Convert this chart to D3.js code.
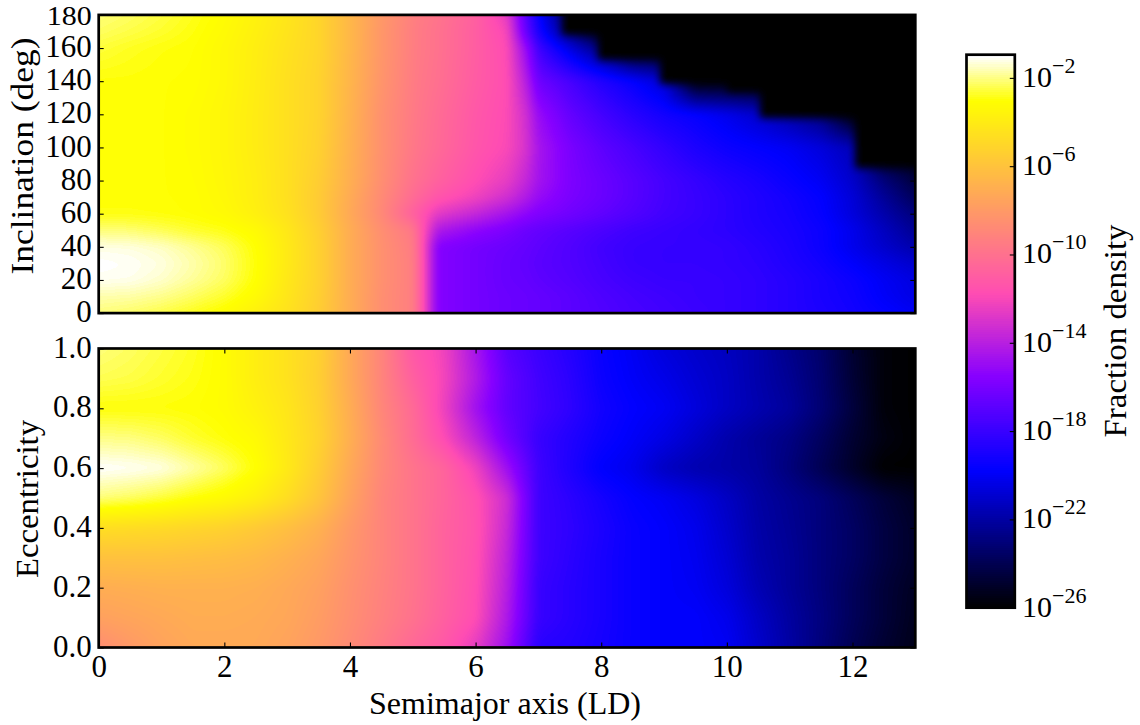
<!DOCTYPE html>
<html><head><meta charset="utf-8">
<style>html,body{margin:0;padding:0;background:#fff}svg{display:block}text{font-family:"Liberation Serif",serif;fill:#000}</style>
<script src="https://cdn.jsdelivr.net/npm/d3@7"></script></head><body>
<script>
// log10(fraction density)
const topA=[0,.5,1,1.5,2,2.5,3,3.5,4,4.5,5,5.1,5.4,6,6.5,6.8,7,7.5,8,8.5,9,9.5,10,10.5,11,11.5,12,12.5,13];
const topInc=[0,10,20,30,40,50,60,70,80,100,120,140,160,170,180];
const topValues=[
[-2.0,-2.15,-2.4,-2.75,-3.1,-3.7,-4.4,-5.4,-7.0,-8.5,-9.3,-10.6,-15.6,-16.1,-16.4,-16.5,-16.6,-16.9,-17.2,-17.5,-17.7,-17.9,-18.1,-18.3,-18.6,-18.9,-19.2,-19.6,-20.0],
[-1.6,-1.65,-1.85,-2.2,-2.6,-3.2,-4.2,-5.3,-7.0,-8.5,-9.3,-10.6,-15.6,-16.1,-16.4,-16.5,-16.6,-16.9,-17.3,-17.6,-17.8,-18,-18.1,-18.3,-18.6,-19,-19.3,-19.9,-20.4],
[-1.05,-1.1,-1.35,-1.75,-2.2,-2.95,-4.1,-5.2,-7,-8.4,-9.3,-10.6,-15.6,-16.1,-16.5,-16.6,-16.8,-17.1,-17.5,-17.8,-18,-18,-18.1,-18.3,-18.6,-19,-19.4,-20,-20.5],
[-.93,-1,-1.2,-1.6,-2.1,-2.9,-4,-5.2,-7,-8.4,-9.3,-10.6,-15.6,-16.1,-16.5,-16.7,-16.9,-17.2,-17.6,-18,-18.1,-18.1,-18.2,-18.4,-18.8,-19.2,-19.8,-20.4,-21],
[-1.15,-1.2,-1.4,-1.8,-2.25,-2.95,-4,-5.2,-7,-8.4,-9.4,-10.7,-15.6,-16.1,-16.4,-16.6,-16.8,-17.2,-17.7,-18,-18.1,-18.1,-18.2,-18.5,-18.9,-19.4,-20.2,-21,-21.8],
[-2,-2.05,-2.3,-2.6,-2.8,-3.2,-4.1,-5.3,-7,-8.5,-9.6,-10.8,-14.3,-15.3,-15.9,-16.4,-16.6,-17,-17.4,-17.8,-18,-18.2,-18.4,-18.7,-19,-19.4,-20.2,-21.3,-22.4],
[-2.85,-2.85,-2.9,-3,-3.2,-3.7,-4.4,-5.5,-7.2,-8.8,-10.8,-11.2,-12.6,-13.6,-14.6,-15.3,-15.7,-16.2,-16.7,-17.2,-17.7,-18,-18.4,-18.8,-19.1,-19.6,-20.6,-21.8,-23],
[-2.9,-2.9,-2.95,-3,-3.3,-3.8,-4.5,-5.5,-7.1,-8.7,-10.2,-10.5,-11.3,-12.2,-13.2,-14.2,-15,-15.9,-16.4,-17,-17.6,-18,-18.4,-18.8,-19.2,-19.7,-20.7,-22.3,-23.8],
[-2.9,-2.9,-2.95,-3.05,-3.35,-3.8,-4.5,-5.4,-6.9,-8.5,-9.9,-10.1,-10.7,-11.7,-12.5,-13.6,-14.6,-15.8,-16.4,-17,-17.6,-18.1,-18.6,-19,-19.5,-20,-21,-23,-24.5],
[-2.9,-2.9,-2.95,-3.1,-3.4,-3.9,-4.5,-5.2,-6.8,-8.4,-9.6,-9.8,-10.3,-11.3,-11.9,-13,-14.5,-15.9,-16.8,-17.5,-18.2,-18.9,-19.4,-19.7,-20,-20.6,-21.5,-26,-26],
[-2.9,-2.9,-2.95,-3.1,-3.4,-3.9,-4.5,-5.1,-6.7,-8.4,-9.5,-9.7,-10.2,-11.2,-11.8,-13.2,-15,-16.6,-17.6,-18.5,-19.2,-19.6,-20.2,-21,-22,-23,-26,-26,-26],
[-2.9,-2.9,-2.95,-3,-3.3,-3.85,-4.5,-5.1,-6.6,-8.2,-9.4,-9.6,-10,-11,-11.7,-14,-16.3,-17.5,-18.7,-19.6,-20.8,-26,-26,-26,-26,-26,-26,-26,-26],
[-2.5,-2.7,-2.85,-2.95,-3.3,-3.8,-4.4,-5,-6.5,-8.1,-9.3,-9.5,-9.9,-10.9,-11.8,-15,-17.8,-20.5,-23,-26,-26,-26,-26,-26,-26,-26,-26,-26,-26],
[-2.2,-2.4,-2.6,-2.85,-3.2,-3.7,-4.3,-5,-6.5,-8.1,-9.3,-9.5,-9.9,-10.9,-12,-16.5,-19,-23,-26,-26,-26,-26,-26,-26,-26,-26,-26,-26,-26],
[-2,-2.2,-2.45,-2.75,-3.1,-3.6,-4.2,-5,-6.5,-8,-9.2,-9.4,-9.8,-10.8,-12.5,-17,-19.5,-24,-26,-26,-26,-26,-26,-26,-26,-26,-26,-26,-26]];
// empty (black) bins of the upper panel: from each semimajor axis on, nothing above this inclination
const emptyFromA=[7.37,7.95,8.94,10,10.52,12.04];
const emptyAboveInc=[168,153,138,133,118,87.5];

const botA=[0,.5,1,1.5,2,2.5,3,3.5,4,4.5,5,5.5,6,6.5,7,7.5,8,8.5,9,9.5,10,10.5,11,11.5,12,12.5,13];
const botEcc=[0,.1,.2,.3,.4,.5,.6,.7,.8,.9,1];
const botValues=[
[-8.6,-8,-7.5,-7.2,-7.2,-7.2,-7.5,-8,-8.7,-9.5,-10.4,-11.2,-12.5,-14.8,-18.5,-18.7,-19.1,-19.5,-19.8,-19.8,-20,-21,-22,-23,-24,-24.8,-25.4],
[-7.6,-7.4,-7.2,-7,-7,-7.1,-7.3,-7.8,-8.5,-9.2,-9.9,-10.8,-11.7,-14.3,-18,-18.5,-19,-19.5,-19.8,-19.8,-20.2,-21.2,-22.1,-22.9,-23.8,-24.6,-25.3],
[-7,-6.9,-6.8,-6.8,-6.8,-6.9,-7.2,-7.6,-8.4,-9.1,-9.8,-10.7,-11.6,-14,-18,-18.5,-19,-19.5,-19.8,-20,-20.6,-21.6,-22.3,-23,-23.8,-24.6,-25.2],
[-6,-6,-6,-6.1,-6.2,-6.4,-6.8,-7.3,-8.2,-9,-9.8,-10.7,-11.5,-13.8,-17.8,-18.4,-19,-19.5,-19.8,-20.1,-20.8,-21.8,-22.3,-23,-23.6,-24.4,-25],
[-4.6,-4.7,-4.8,-5,-5.2,-5.6,-6.1,-6.8,-8,-9,-9.8,-10.7,-11.4,-13.5,-17.8,-18.3,-18.9,-19.5,-19.8,-20.2,-21,-21.9,-22.4,-23,-23.6,-24.4,-25],
[-2,-2.2,-2.5,-2.9,-3.2,-3.7,-4.6,-5.8,-7.5,-9,-9.8,-10.6,-11.5,-13.3,-17.8,-18.4,-19.1,-19.7,-20,-20.5,-21.2,-22,-22.5,-23,-23.8,-24.6,-25.2],
[-.93,-1,-1.15,-1.65,-2.2,-2.95,-4,-5.4,-7.2,-8.8,-9.8,-10.6,-12.2,-14.8,-17.8,-18.8,-19.8,-20.2,-21.2,-21.7,-21.9,-22.2,-23,-24,-25,-26,-26],
[-1.9,-1.95,-2.2,-2.6,-2.9,-3.2,-4.1,-5.1,-6.9,-8.7,-10.2,-11.8,-13.8,-16.2,-18,-18.7,-19.4,-19.9,-20.4,-21.1,-21.8,-22.3,-22.8,-23.7,-24.8,-25.6,-26],
[-2.9,-2.9,-2.9,-2.95,-3.1,-3.6,-4.2,-5.2,-7,-8.9,-10.3,-12.3,-14.7,-16.7,-17.6,-18.3,-19.2,-19.7,-20,-20.6,-21.2,-21.7,-22.2,-23.2,-24.5,-25.8,-26],
[-2.3,-2.4,-2.6,-2.8,-3.1,-3.8,-4.4,-5.3,-7.2,-9,-10.8,-12.1,-14.2,-16.6,-17.7,-18.4,-19.4,-19.9,-20.3,-20.8,-21.2,-21.8,-22.4,-23.3,-24.7,-25.8,-26],
[-2,-2.2,-2.45,-2.7,-3.1,-3.8,-4.4,-5.2,-7.2,-9,-11.2,-12.2,-14.5,-17,-17.9,-18.6,-19.5,-20,-20.6,-21,-21.3,-21.8,-22.6,-23.4,-24.8,-25.8,-26]];

const aTicks=[0,2,4,6,8,10,12];
const incTicks=[0,20,40,60,80,100,120,140,160,180];
const eccTicks=[0,.2,.4,.6,.8,1];
const cbExponents=[-2,-6,-10,-14,-18,-22,-26];
const cbMin=-26, cbMax=-0.95;

const W=1140,H=725,FS=31;
const svg=d3.select("body").append("svg").attr("width",W).attr("height",H);
const xS=d3.scaleLinear().domain([0,13]).range([98.7,915.3]);
const yTop=d3.scaleLinear().domain([0,180]).range([313.1,14.9]);
const yBot=d3.scaleLinear().domain([0,1]).range([647.5,348.5]);
const cbY=d3.scaleLog().domain([Math.pow(10,cbMin),Math.pow(10,cbMax)]).range([607.7,54.7]);
const cbL=966.5,cbR=1014.8;

// gnuplot2 colour map
function gnuplot2(t){
  t=Math.max(0,Math.min(1,Math.round(t*255)/255));
  const c=v=>Math.round(255*Math.max(0,Math.min(1,v)));
  const b=t<.25?4*t:t<.42?1:t<.92?-2*t+1.84:t/.08-11.5;
  return [c(t/.32-.78125),c(2*t-.84),c(b)];
}
const frac=d3.scaleLinear().domain([cbMin,cbMax]).range([0,1]);

function lookup(xs,ys,vals,x,y){
  const i=Math.max(0,Math.min(xs.length-2,d3.bisectRight(xs,x)-1));
  const j=Math.max(0,Math.min(ys.length-2,d3.bisectRight(ys,y)-1));
  const u=(x-xs[i])/(xs[i+1]-xs[i]),v=(y-ys[j])/(ys[j+1]-ys[j]);
  return (vals[j][i]*(1-u)+vals[j][i+1]*u)*(1-v)+(vals[j+1][i]*(1-u)+vals[j+1][i+1]*u)*v;
}
function boxBlur(f,w,h,r){
  const t=new Float32Array(f.length);
  for(let y=0;y<h;y++)for(let x=0;x<w;x++){let s=0;for(let k=-r;k<=r;k++)s+=f[y*w+Math.max(0,Math.min(w-1,x+k))];t[y*w+x]=s/(2*r+1);}
  for(let y=0;y<h;y++)for(let x=0;x<w;x++){let s=0;for(let k=-r;k<=r;k++)s+=t[Math.max(0,Math.min(h-1,y+k))*w+x];f[y*w+x]=s/(2*r+1);}
}
function heat(yS,fn,r){
  const x0=Math.floor(xS.range()[0]),x1=Math.ceil(xS.range()[1]);
  const y0=Math.floor(yS.range()[1]),y1=Math.ceil(yS.range()[0]);
  const w=x1-x0,h=y1-y0,f=new Float32Array(w*h);
  for(let j=0;j<h;j++)for(let i=0;i<w;i++)f[j*w+i]=fn(xS.invert(x0+i+.5),yS.invert(y0+j+.5));
  boxBlur(f,w,h,r);boxBlur(f,w,h,r);
  const cv=document.createElement("canvas");cv.width=w;cv.height=h;
  const ctx=cv.getContext("2d"),im=ctx.createImageData(w,h);
  for(let k=0;k<w*h;k++){const c=gnuplot2(frac(f[k]));im.data[4*k]=c[0];im.data[4*k+1]=c[1];im.data[4*k+2]=c[2];im.data[4*k+3]=255;}
  ctx.putImageData(im,0,0);
  svg.append("image").attr("x",x0).attr("y",y0).attr("width",w).attr("height",h).attr("href",cv.toDataURL());
}
heat(yTop,(a,inc)=>{
  const s=d3.bisectRight(emptyFromA,a)-1;
  if(s>=0&&inc>emptyAboveInc[s])return cbMin;
  return lookup(topA,topInc,topValues,a,inc);
},4);
heat(yBot,(a,e)=>lookup(botA,botEcc,botValues,a,e),4);

// axes
function styleAxis(g){g.select(".domain").remove();g.selectAll("line").attr("stroke","#000").attr("stroke-width",1.1);
  g.selectAll("text").attr("font-size",FS).attr("font-family",'"Liberation Serif",serif').attr("fill","#000");}
function frame(x0,y0,x1,y1){svg.append("rect").attr("x",x0).attr("y",y0).attr("width",x1-x0).attr("height",y1-y0)
  .attr("fill","none").attr("stroke","#000").attr("stroke-width",2.7);}
const X=xS.range();
const yAxis=(s,vals,fmt)=>d3.axisLeft(s).tickValues(vals).tickFormat(fmt).tickSizeInner(-5).tickSizeOuter(0).tickPadding(7);
const yLabels=g=>g.selectAll("text").attr("dy",".28em");
svg.append("g").attr("transform",`translate(${X[0]},0)`).call(yAxis(yTop,incTicks,d3.format("d"))).call(styleAxis).call(yLabels)
 // the top label sits against the picture's edge, so it is set slightly smaller
 .selectAll("text").filter(d=>d===180).attr("font-size",28).attr("dy",".36em").attr("textLength",45).attr("lengthAdjust","spacingAndGlyphs");
svg.append("g").attr("transform",`translate(${X[1]},0)`).call(d3.axisRight(yTop).tickValues(incTicks).tickFormat("").tickSizeInner(-5).tickSizeOuter(0)).call(styleAxis);
svg.append("g").attr("transform",`translate(${X[0]},0)`).call(yAxis(yBot,eccTicks,d3.format(".1f"))).call(styleAxis).call(yLabels);
svg.append("g").attr("transform",`translate(${X[1]},0)`).call(d3.axisRight(yBot).tickValues(eccTicks).tickFormat("").tickSizeInner(-5).tickSizeOuter(0)).call(styleAxis);
svg.append("g").attr("transform",`translate(0,${yBot.range()[0]})`).call(d3.axisBottom(xS).tickValues(aTicks).tickFormat(d3.format("d")).tickSizeInner(-5).tickSizeOuter(0).tickPadding(7)).call(styleAxis);
svg.append("g").attr("transform",`translate(0,${yBot.range()[1]})`).call(d3.axisTop(xS).tickValues(aTicks).tickFormat("").tickSizeInner(-5).tickSizeOuter(0)).call(styleAxis);
frame(X[0],yTop.range()[1],X[1],yTop.range()[0]);
frame(X[0],yBot.range()[1],X[1],yBot.range()[0]);

// colour bar
const cbSteps=d3.range(256);
svg.append("g").attr("shape-rendering","crispEdges").selectAll("rect").data(cbSteps).join("rect")
 .attr("x",cbL).attr("width",cbR-cbL)
 .attr("y",d=>cbY(Math.pow(10,cbMin+(cbMax-cbMin)*(d+1)/256)))
 .attr("height",d=>cbY(Math.pow(10,cbMin+(cbMax-cbMin)*d/256))-cbY(Math.pow(10,cbMin+(cbMax-cbMin)*(d+1)/256))+1)
 .attr("fill",d=>{const c=gnuplot2(d/255);return `rgb(${c[0]},${c[1]},${c[2]})`;});
const cbTicks=cbExponents.map(e=>Math.pow(10,e));
svg.append("g").attr("transform",`translate(${cbR},0)`).call(d3.axisRight(cbY).tickValues(cbTicks).tickFormat("").tickSizeInner(-5).tickSizeOuter(0)).call(styleAxis);
frame(cbL,54.7,cbR,607.7);
const cbLab=svg.append("g").selectAll("text").data(cbExponents).join("text")
 .attr("x",1022).attr("y",e=>cbY(Math.pow(10,e))+9).attr("font-size",30);
cbLab.append("tspan").text("10");
cbLab.append("tspan").attr("font-size",22).attr("dy",-14).text(e=>"\u2212"+Math.abs(e));

// axis titles
svg.append("text").attr("x",505).attr("y",714).attr("text-anchor","middle").attr("font-size",FS)
 .attr("textLength",272).attr("lengthAdjust","spacingAndGlyphs").text("Semimajor axis (LD)");
const rot=(x,y,len,t)=>svg.append("text").attr("transform",`translate(${x},${y}) rotate(-90)`).attr("text-anchor","middle").attr("font-size",FS)
 .attr("textLength",len).attr("lengthAdjust","spacingAndGlyphs").text(t);
rot(33,156,237,"Inclination (deg)");
rot(38,499,158,"Eccentricity");
rot(1126,331,213,"Fraction density");
</script></body></html>
